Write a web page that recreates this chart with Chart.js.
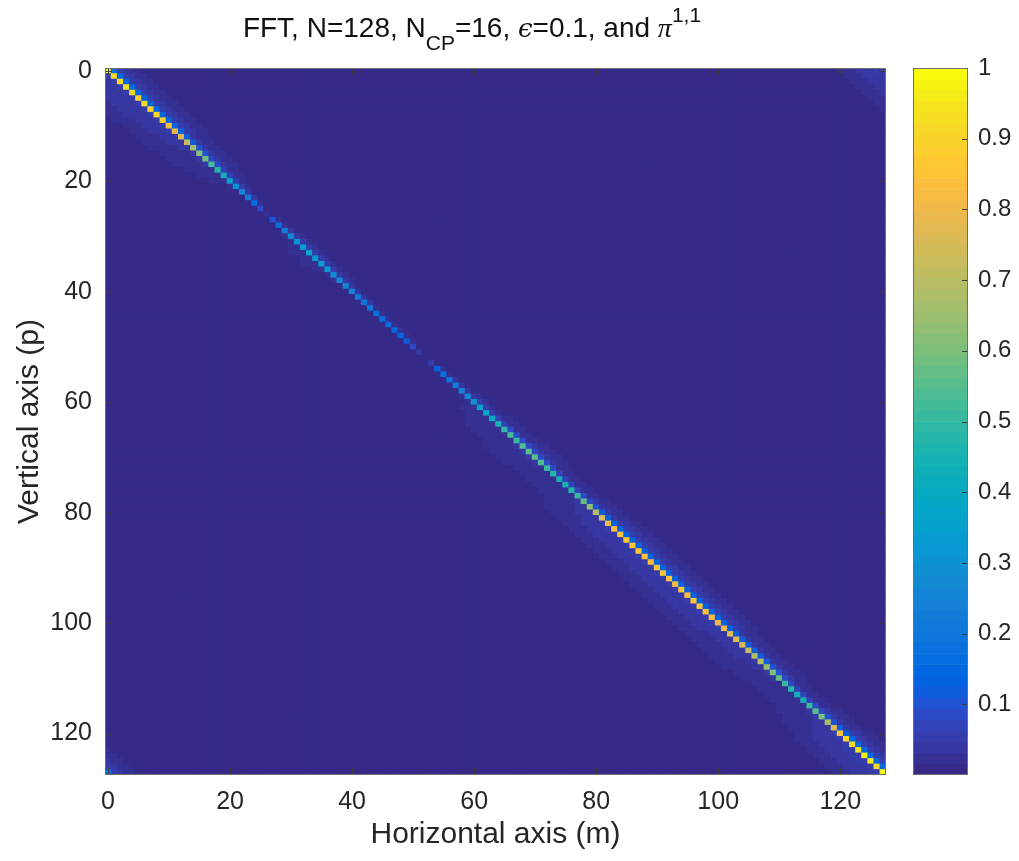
<!DOCTYPE html>
<html>
<head>
<meta charset="utf-8">
<title>FFT, N=128, NCP=16</title>
<script src="https://cdn.jsdelivr.net/npm/chart.js@4.4.1/dist/chart.umd.min.js"></script>
<style>
  html, body { margin: 0; padding: 0; background: #fff; }
  #wrap { position: relative; width: 1019px; height: 861px; }
  #heat { position: absolute; left: 0; top: 0; width: 1019px; height: 861px; }
  #cbar { position: absolute; left: 890px; top: 0; width: 129px; height: 861px; }
</style>
</head>
<body>
<div id="wrap">
  <canvas id="heat" width="1019" height="861"></canvas>
  <canvas id="cbar" width="129" height="861"></canvas>
</div>
<script>
// matrix size (m = columns, p = rows)
const N = 128;

// main diagonal |pi(p,p)|, p = 0..127
const diagonal = [
  1.00, 0.93, 0.92, 0.93, 0.92, 0.90, 0.92, 0.90, 0.90, 0.88,
  0.84, 0.81, 0.77, 0.72, 0.67, 0.62, 0.58, 0.53, 0.48, 0.43,
  0.37, 0.31, 0.26, 0.21, 0.17, 0.09, 0.02, 0.10, 0.18, 0.22,
  0.28, 0.31, 0.34, 0.36, 0.33, 0.35, 0.32, 0.29, 0.27, 0.25,
  0.24, 0.21, 0.20, 0.19, 0.18, 0.16, 0.17, 0.15, 0.15, 0.12,
  0.09, 0.04, 0.01, 0.06, 0.14, 0.18, 0.20, 0.22, 0.25, 0.28,
  0.31, 0.35, 0.38, 0.42, 0.45, 0.49, 0.52, 0.50, 0.54, 0.55,
  0.55, 0.54, 0.50, 0.47, 0.45, 0.45, 0.47, 0.50, 0.57, 0.64,
  0.70, 0.75, 0.80, 0.83, 0.85, 0.86, 0.85, 0.86, 0.85, 0.84,
  0.85, 0.86, 0.85, 0.84, 0.85, 0.84, 0.85, 0.85, 0.83, 0.82,
  0.80, 0.80, 0.78, 0.77, 0.75, 0.73, 0.70, 0.69, 0.65, 0.60,
  0.57, 0.51, 0.47, 0.45, 0.45, 0.50, 0.55, 0.60, 0.68, 0.78,
  0.85, 0.90, 0.93, 0.95, 0.97, 0.96, 0.92, 1.00
];

// leakage next to the diagonal, relative to the diagonal of the same row
// bandAbove[k-1] -> m = p + k, bandBelow[k-1] -> p = m + k (cyclic)
const bandAbove = [0.16, 0.06, 0.04, 0.03, 0.02, 0.015, 0.01];
const bandBelow = [0.06, 0.05, 0.045, 0.04, 0.035, 0.03, 0.025, 0.018, 0.01];

const xTicks = [0, 20, 40, 60, 80, 100, 120];
const yTicks = [0, 20, 40, 60, 80, 100, 120];
const cbTicks = [0.1, 0.2, 0.3, 0.4, 0.5, 0.6, 0.7, 0.8, 0.9, 1];

// parula, 64 entries
const parula = [
  [0.2081,0.1663,0.5292],[0.2116,0.1898,0.5777],[0.2123,0.2138,0.6270],[0.2081,0.2386,0.6771],
  [0.1959,0.2645,0.7279],[0.1707,0.2919,0.7792],[0.1253,0.3242,0.8303],[0.0591,0.3598,0.8683],
  [0.0117,0.3875,0.8820],[0.0060,0.4086,0.8828],[0.0165,0.4266,0.8786],[0.0329,0.4430,0.8720],
  [0.0498,0.4586,0.8641],[0.0629,0.4737,0.8554],[0.0723,0.4887,0.8467],[0.0779,0.5040,0.8384],
  [0.0793,0.5200,0.8312],[0.0749,0.5375,0.8263],[0.0641,0.5570,0.8240],[0.0488,0.5772,0.8228],
  [0.0343,0.5966,0.8199],[0.0265,0.6137,0.8135],[0.0239,0.6287,0.8038],[0.0231,0.6418,0.7913],
  [0.0228,0.6535,0.7768],[0.0267,0.6642,0.7607],[0.0384,0.6743,0.7436],[0.0590,0.6838,0.7254],
  [0.0843,0.6928,0.7062],[0.1133,0.7015,0.6859],[0.1453,0.7098,0.6646],[0.1801,0.7177,0.6424],
  [0.2178,0.7250,0.6193],[0.2586,0.7317,0.5954],[0.3022,0.7376,0.5712],[0.3482,0.7424,0.5473],
  [0.3953,0.7459,0.5244],[0.4420,0.7481,0.5033],[0.4871,0.7491,0.4840],[0.5300,0.7491,0.4661],
  [0.5709,0.7485,0.4494],[0.6099,0.7473,0.4337],[0.6473,0.7456,0.4188],[0.6834,0.7435,0.4044],
  [0.7184,0.7411,0.3905],[0.7525,0.7384,0.3768],[0.7858,0.7356,0.3633],[0.8185,0.7327,0.3498],
  [0.8507,0.7299,0.3360],[0.8824,0.7274,0.3217],[0.9139,0.7258,0.3063],[0.9450,0.7261,0.2886],
  [0.9739,0.7314,0.2666],[0.9938,0.7455,0.2403],[0.9990,0.7653,0.2164],[0.9955,0.7861,0.1967],
  [0.9880,0.8066,0.1794],[0.9789,0.8271,0.1633],[0.9697,0.8481,0.1475],[0.9626,0.8705,0.1309],
  [0.9589,0.8949,0.1132],[0.9598,0.9218,0.0948],[0.9661,0.9514,0.0755],[0.9763,0.9831,0.0538]
];

const FONT = '"Liberation Sans", Arial, Helvetica, sans-serif';
const TEXT = '#262626';
Chart.defaults.font.family = FONT;
Chart.defaults.color = TEXT;

function rgb(c) {
  return `rgb(${Math.round(c[0] * 255)},${Math.round(c[1] * 255)},${Math.round(c[2] * 255)})`;
}
// same mapping as caxis [0 1] with a 64-colour map
function colorFor(v) {
  const i = Math.max(0, Math.min(parula.length - 1, Math.floor(v * parula.length)));
  return rgb(parula[i]);
}

function cellValue(p, m) {
  if (p === m) return diagonal[p];
  const up = (m - p + N) % N;
  if (up >= 1 && up <= bandAbove.length) return diagonal[p] * bandAbove[up - 1];
  const down = (p - m + N) % N;
  if (down >= 1 && down <= bandBelow.length) return diagonal[p] * bandBelow[down - 1];
  return 0;
}

// every cell is a floating bar spanning one row at column m
const cells = [];
const cellColors = [];
for (let p = 0; p < N; p++) {
  for (let m = 0; m < N; m++) {
    cells.push({ x: m, y: [p - 0.5, p + 0.5] });
    cellColors.push(colorFor(cellValue(p, m)));
  }
}

// box with inward tick marks on all four sides
const framePlugin = {
  id: 'frame',
  beforeDatasetsDraw(chart) {
    const { ctx, chartArea: a } = chart;
    ctx.save();
    ctx.fillStyle = rgb(parula[0]);
    ctx.fillRect(a.left, a.top, a.right - a.left, a.bottom - a.top);
    ctx.restore();
  },
  afterDatasetsDraw(chart) {
    const { ctx, chartArea: a, scales } = chart;
    const len = 7;
    ctx.save();
    ctx.strokeStyle = '#3c3c3c';
    ctx.lineWidth = 1;
    ctx.beginPath();
    xTicks.forEach(v => {
      const px = Math.round(scales.x.getPixelForValue(v)) + 0.5;
      ctx.moveTo(px, a.bottom); ctx.lineTo(px, a.bottom - len);
      ctx.moveTo(px, a.top); ctx.lineTo(px, a.top + len);
    });
    yTicks.forEach(v => {
      const py = Math.round(scales.y.getPixelForValue(v)) + 0.5;
      ctx.moveTo(a.left, py); ctx.lineTo(a.left + len, py);
      ctx.moveTo(a.right, py); ctx.lineTo(a.right - len, py);
    });
    ctx.stroke();
    ctx.strokeStyle = '#6e6e6e';
    ctx.strokeRect(a.left + 0.5, a.top + 0.5, a.right - a.left - 1, a.bottom - a.top - 1);
    ctx.restore();
  }
};

// title with subscript, greek letters and superscript
const titleParts = [
  { text: 'FFT, N=128, N', font: `28px ${FONT}`, dy: 0 },
  { text: 'CP', font: `21px ${FONT}`, dy: 13 },
  { text: '=16, ', font: `28px ${FONT}`, dy: 0 },
  { text: '\u03F5', font: 'italic 26px "DejaVu Serif", "Liberation Serif", serif', dy: 0 },
  { text: '=0.1, and ', font: `28px ${FONT}`, dy: 0 },
  { text: '\u03C0', font: 'italic 28px "Liberation Serif", "DejaVu Serif", serif', dy: 0 },
  { text: '1,1', font: `21px ${FONT}`, dy: -15 }
];
const titlePlugin = {
  id: 'richTitle',
  afterDraw(chart) {
    const { ctx } = chart;
    ctx.save();
    ctx.fillStyle = '#111';
    ctx.textBaseline = 'alphabetic';
    ctx.textAlign = 'left';
    let total = 0;
    titleParts.forEach(t => { ctx.font = t.font; total += ctx.measureText(t.text).width; });
    let x = 472 - total / 2;
    const base = 37;
    titleParts.forEach(t => {
      ctx.font = t.font;
      ctx.fillText(t.text, x, base + t.dy);
      x += ctx.measureText(t.text).width;
    });
    ctx.restore();
  }
};

new Chart(document.getElementById('heat'), {
  type: 'bar',
  data: {
    datasets: [{
      data: cells,
      backgroundColor: cellColors,
      borderWidth: 0,
      barPercentage: 1,
      categoryPercentage: 1,
      grouped: false
    }]
  },
  options: {
    responsive: false,
    animation: false,
    devicePixelRatio: 1,
    events: [],
    layout: { padding: { left: 0, right: 133, top: 68, bottom: 0 } },
    plugins: {
      legend: { display: false },
      tooltip: { enabled: false },
      title: { display: false }
    },
    scales: {
      x: {
        type: 'linear',
        min: -0.5,
        max: 127.5,
        offset: false,
        grid: { display: false, drawTicks: false },
        border: { display: false },
        afterBuildTicks: s => { s.ticks = xTicks.map(v => ({ value: v })); },
        afterFit: s => { s.height = 86; },
        ticks: { padding: 12, color: TEXT, font: { size: 25 }, maxRotation: 0, autoSkip: false },
        title: {
          display: true, text: 'Horizontal axis (m)', color: TEXT,
          font: { size: 30 }, padding: { top: 0, bottom: 8 }
        }
      },
      y: {
        type: 'linear',
        reverse: true,
        min: -0.5,
        max: 127.5,
        grid: { display: false, drawTicks: false },
        border: { display: false },
        afterBuildTicks: s => { s.ticks = yTicks.map(v => ({ value: v })); },
        afterFit: s => { s.width = 105; },
        ticks: { padding: 13, color: TEXT, font: { size: 25 }, autoSkip: false },
        title: {
          display: true, text: 'Vertical axis (p)', color: TEXT,
          font: { size: 30 }, padding: { top: 12, bottom: 0 }
        }
      }
    }
  },
  plugins: [framePlugin, titlePlugin]
});

// colour bar: one stacked strip per colormap entry
const cbCells = parula.map((c, i) => ({ x: 'cb', y: [i / parula.length, (i + 1) / parula.length] }));
const cbColors = parula.map(rgb);

const cbFrame = {
  id: 'cbFrame',
  afterDatasetsDraw(chart) {
    const { ctx, chartArea: a, scales } = chart;
    ctx.save();
    ctx.strokeStyle = '#3c3c3c';
    ctx.lineWidth = 1;
    ctx.beginPath();
    cbTicks.forEach(v => {
      const py = Math.round(scales.y.getPixelForValue(v)) + 0.5;
      ctx.moveTo(a.right, py); ctx.lineTo(a.right - 6, py);
    });
    ctx.stroke();
    ctx.strokeStyle = '#6e6e6e';
    ctx.strokeRect(a.left + 0.5, a.top + 0.5, a.right - a.left - 1, a.bottom - a.top - 1);
    ctx.restore();
  }
};

new Chart(document.getElementById('cbar'), {
  type: 'bar',
  data: {
    labels: ['cb'],
    datasets: [{
      data: cbCells,
      backgroundColor: cbColors,
      borderWidth: 0,
      barPercentage: 1,
      categoryPercentage: 1,
      grouped: false
    }]
  },
  options: {
    responsive: false,
    animation: false,
    devicePixelRatio: 1,
    events: [],
    layout: { padding: { left: 23, right: 0, top: 68, bottom: 86 } },
    plugins: { legend: { display: false }, tooltip: { enabled: false } },
    scales: {
      x: { display: false },
      y: {
        position: 'right',
        min: 0,
        max: 1,
        grid: { display: false, drawTicks: false },
        border: { display: false },
        afterBuildTicks: s => { s.ticks = cbTicks.map(v => ({ value: v })); },
        afterFit: s => { s.width = 51; },
        ticks: { padding: 10, color: TEXT, font: { size: 24 }, callback: v => String(v) }
      }
    }
  },
  plugins: [cbFrame]
});
</script>
</body>
</html>
